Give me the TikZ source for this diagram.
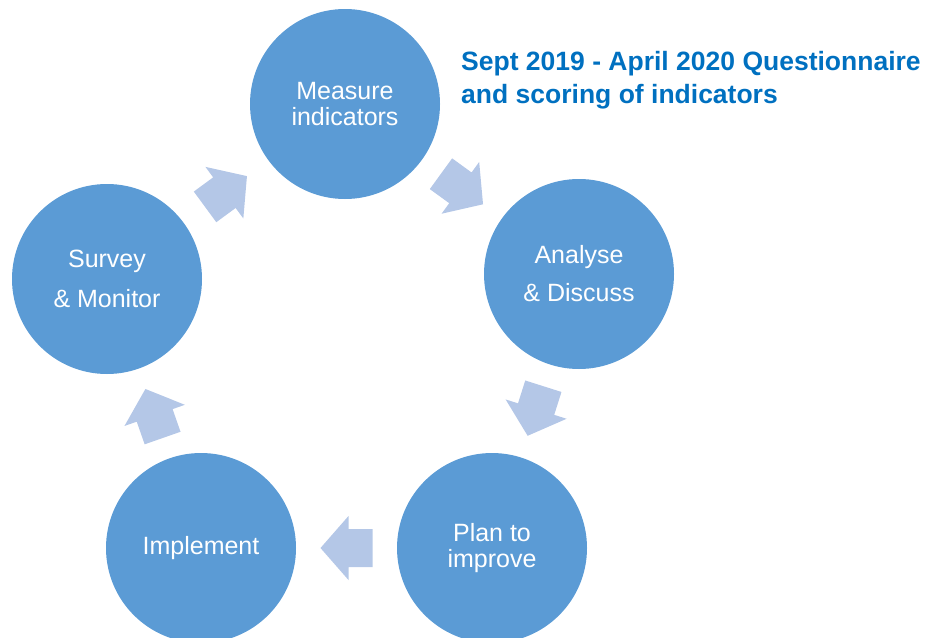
\documentclass[tikz,border=0pt]{standalone}
\usepackage{fontspec}
\setmainfont{Liberation Sans}
\usetikzlibrary{calc}
\definecolor{circ}{HTML}{5B9BD5}
\definecolor{arr}{HTML}{B4C7E7}
\definecolor{ttl}{HTML}{0070C0}
\begin{document}
\begin{tikzpicture}[x=1pt,y=-1pt,
  stage/.style={circle, fill=circ, minimum size=190pt, inner sep=0pt, text=white, align=center, font=\fontsize{25}{26}\selectfont},
  flow/.pic={\fill[arr] (-26,-19) -- (-2,-19) -- (-2,-32) -- (26,0) -- (-2,32) -- (-2,19) -- (-26,19) -- cycle;}
  ]
\useasboundingbox (0,0) rectangle (928,637);
\node[stage] (measure) at (345,104) {Measure\\indicators};
\node[stage] (analyse) at (579,274) {Analyse\\[12pt]\& Discuss};
\node[stage] (plan) at (492,548) {Plan to\\improve};
\node[stage] (implement) at (201,548) {Implement};
\node[stage] (survey) at (107,279) {Survey\\[14pt]\& Monitor};
\pic[rotate=36.3] at ($(survey)!0.5!(measure)$) {flow};
\pic[rotate=-36] at ($(measure)!0.5!(analyse)$) {flow};
\pic[rotate=-107.6] at ($(analyse)!0.5!(plan)$) {flow};
\pic[rotate=180] at ($(plan)!0.5!(implement)$) {flow};
\pic[rotate=109.3] at ($(implement)!0.5!(survey)$) {flow};
\node[anchor=north west, text=ttl, inner sep=0pt, align=left, font=\bfseries\fontsize{26.5}{33}\selectfont] (note) at (461,51) {Sept 2019 - April 2020 Questionnaire\\and scoring of indicators};
\end{tikzpicture}
\end{document}
